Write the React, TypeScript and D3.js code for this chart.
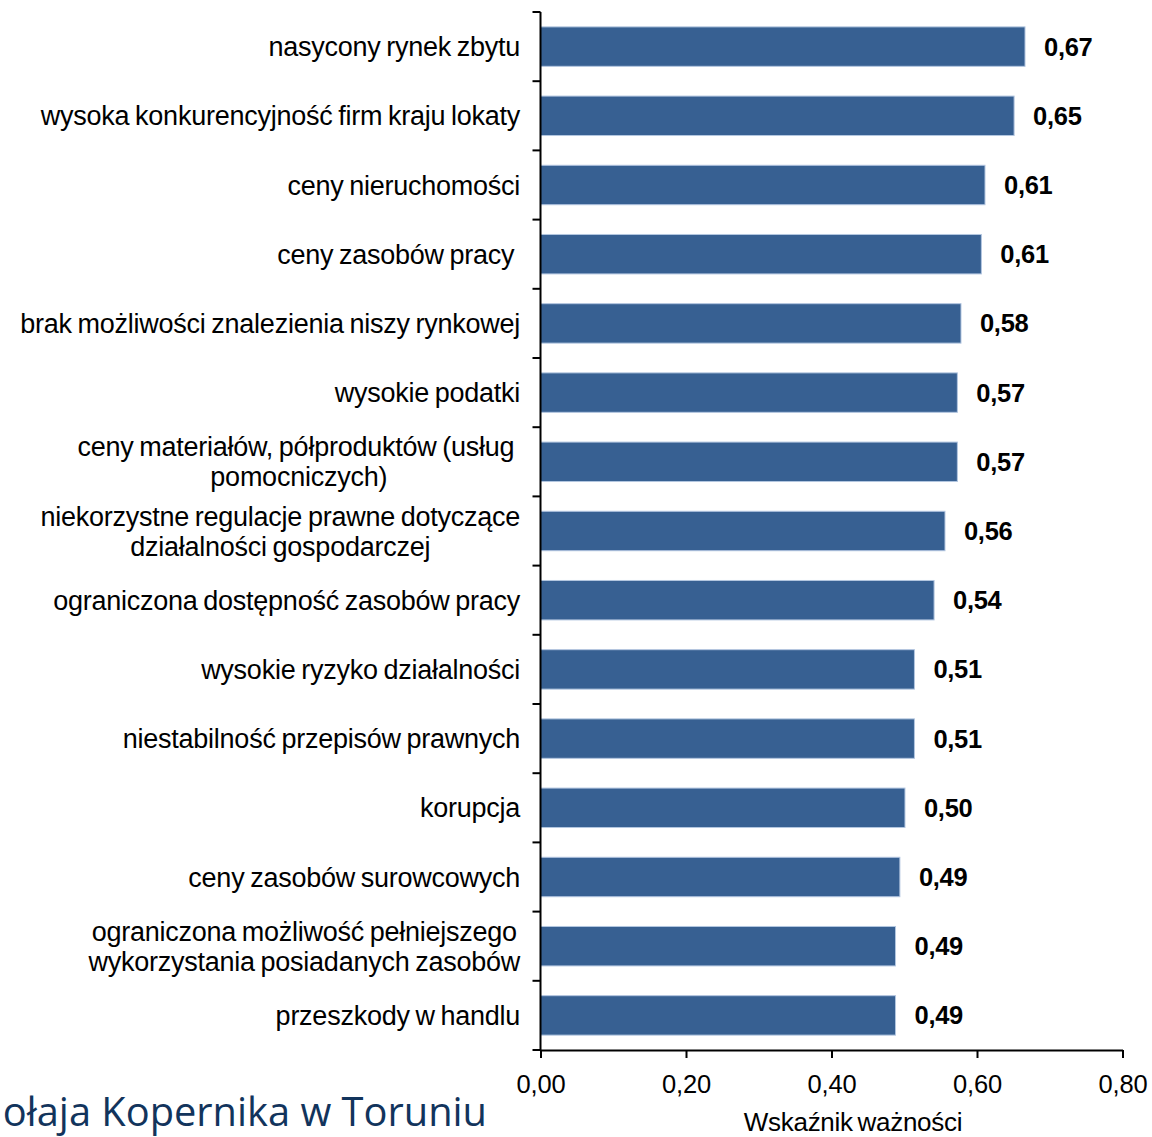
import React, { useEffect, useRef } from "react";
import * as d3 from "d3";

const categories: string[][] = [
  ["nasycony rynek zbytu"],
  ["wysoka konkurencyjność firm kraju lokaty"],
  ["ceny nieruchomości"],
  ["ceny zasobów pracy "],
  ["brak możliwości znalezienia niszy rynkowej"],
  ["wysokie podatki"],
  ["ceny materiałów, półproduktów (usług ", "pomocniczych)"],
  ["niekorzystne regulacje prawne dotyczące", "działalności gospodarczej"],
  ["ograniczona dostępność zasobów pracy"],
  ["wysokie ryzyko działalności"],
  ["niestabilność przepisów prawnych"],
  ["korupcja"],
  ["ceny zasobów surowcowych"],
  ["ograniczona możliwość pełniejszego", "wykorzystania posiadanych zasobów"],
  ["przeszkody w handlu"],
];

const values: number[] = [
  0.666, 0.651, 0.611, 0.606, 0.578, 0.573, 0.573, 0.556, 0.541, 0.514, 0.514,
  0.501, 0.494, 0.488, 0.488,
];

const xTicks: number[] = [0, 0.2, 0.4, 0.6, 0.8];
const axisTitle = "Wskaźnik ważności";
const footerText = "ołaja Kopernika w Toruniu";

const W = 1152;
const H = 1137;
const FONT = "'Liberation Sans', Arial, sans-serif";
const CAT_SIZE = 27;
const LETTER_SP = -0.25;
const WORD_SP = -1.5;
const LABEL_RIGHT = 520;

const fmt = (v: number) => v.toFixed(2).replace(".", ",");

let measureCtx: CanvasRenderingContext2D | null = null;
function measure(text: string, size: number): number {
  if (!measureCtx) {
    const c = document.createElement("canvas");
    measureCtx = c.getContext("2d");
  }
  const spaces = (text.match(/ /g) || []).length;
  let w = text.length * size * 0.5;
  if (measureCtx) {
    measureCtx.font = `${size}px 'Liberation Sans', Arial, sans-serif`;
    w = measureCtx.measureText(text).width;
  }
  return w + LETTER_SP * text.length + WORD_SP * spaces;
}

export default function App() {
  const xAxisRef = useRef<SVGGElement>(null);

  const ids = categories.map((_, i) => String(i));
  const x = d3.scaleLinear().domain([0, 0.8]).range([540.5, 1122.5]);
  const y = d3
    .scaleBand<string>()
    .domain(ids)
    .range([12, 1050])
    .paddingInner(0.43)
    .paddingOuter(0.215);

  useEffect(() => {
    if (!xAxisRef.current) return;
    const g = d3.select(xAxisRef.current);
    g.selectAll("*").remove();
    const axis = d3
      .axisBottom(x)
      .tickValues(xTicks)
      .tickFormat((d) => fmt(d as number))
      .tickSizeInner(8)
      .tickSizeOuter(0)
      .tickPadding(17);
    g.call(axis);
    g.select(".domain").attr("stroke", "#000").attr("stroke-width", 2);
    g.selectAll(".tick line").attr("stroke", "#000").attr("stroke-width", 2);
    g.selectAll(".tick text")
      .attr("fill", "#000")
      .style("font-family", FONT)
      .style("font-size", "25.5px")
      .style("letter-spacing", "-0.2px");
  }, []);

  const step = y.step();
  const [y0, y1] = y.range();
  const boundaries = d3.range(categories.length + 1).map((i) => y0 + i * step);

  const catStyle: React.CSSProperties = {
    whiteSpace: "pre",
    letterSpacing: `${LETTER_SP}px`,
    wordSpacing: `${WORD_SP}px`,
  };

  return (
    <svg
      width={W}
      height={H}
      viewBox={`0 0 ${W} ${H}`}
      style={{ position: "absolute", left: 0, top: 0, background: "#fff" }}
    >
      <rect x={0} y={0} width={W} height={H} fill="#fff" />
      {/* bars */}
      {values.map((v, i) => (
        <rect
          key={"b" + i}
          x={x(0)}
          y={y(String(i))}
          width={x(v) - x(0)}
          height={y.bandwidth()}
          fill="#376092"
          stroke="#b3c6e0"
          strokeWidth={1}
        />
      ))}
      {/* value labels */}
      {values.map((v, i) => (
        <text
          key={"v" + i}
          x={x(v) + 19}
          y={(y(String(i)) as number) + y.bandwidth() / 2 + 9}
          fontFamily={FONT}
          fontWeight="bold"
          fontSize={25.5}
          fill="#000"
          style={{ letterSpacing: "-0.3px" }}
        >
          {fmt(v)}
        </text>
      ))}
      {/* category labels */}
      {categories.map((lines, i) => {
        const cy = (y(String(i)) as number) + y.bandwidth() / 2;
        const lh = 30;
        if (lines.length === 1) {
          return (
            <text
              key={"c" + i}
              x={LABEL_RIGHT}
              y={cy + 9.5}
              textAnchor="end"
              fontFamily={FONT}
              fontSize={CAT_SIZE}
              fill="#000"
              style={catStyle}
            >
              {lines[0]}
            </text>
          );
        }
        const maxW = Math.max(...lines.map((l) => measure(l, CAT_SIZE)));
        const cx = LABEL_RIGHT - maxW / 2;
        return (
          <text
            key={"c" + i}
            textAnchor="middle"
            fontFamily={FONT}
            fontSize={CAT_SIZE}
            fill="#000"
            style={catStyle}
          >
            {lines.map((l, j) => (
              <tspan key={j} x={cx} y={cy - ((lines.length - 1) * lh) / 2 + j * lh + 9.5}>
                {l}
              </tspan>
            ))}
          </text>
        );
      })}
      {/* y axis */}
      <line x1={x(0)} x2={x(0)} y1={y0} y2={y1} stroke="#000" strokeWidth={2} />
      {boundaries.map((b, i) => (
        <line
          key={"t" + i}
          x1={x(0) - 8}
          x2={x(0)}
          y1={b}
          y2={b}
          stroke="#000"
          strokeWidth={2}
        />
      ))}
      {/* x axis */}
      <g ref={xAxisRef} transform={`translate(0,${y1})`} />
      <text
        x={853}
        y={1131}
        textAnchor="middle"
        fontFamily={FONT}
        fontSize={26}
        fill="#000"
        style={{ letterSpacing: "-0.3px", wordSpacing: "-2px" }}
      >
        {axisTitle}
      </text>
      {/* footer */}
      <text
        x={487}
        y={1126}
        textAnchor="end"
        fontFamily="'Open Sans', 'Noto Sans', sans-serif"
        fontSize={39.8}
        fill="#12345c"
      >
        {footerText}
      </text>
    </svg>
  );
}
